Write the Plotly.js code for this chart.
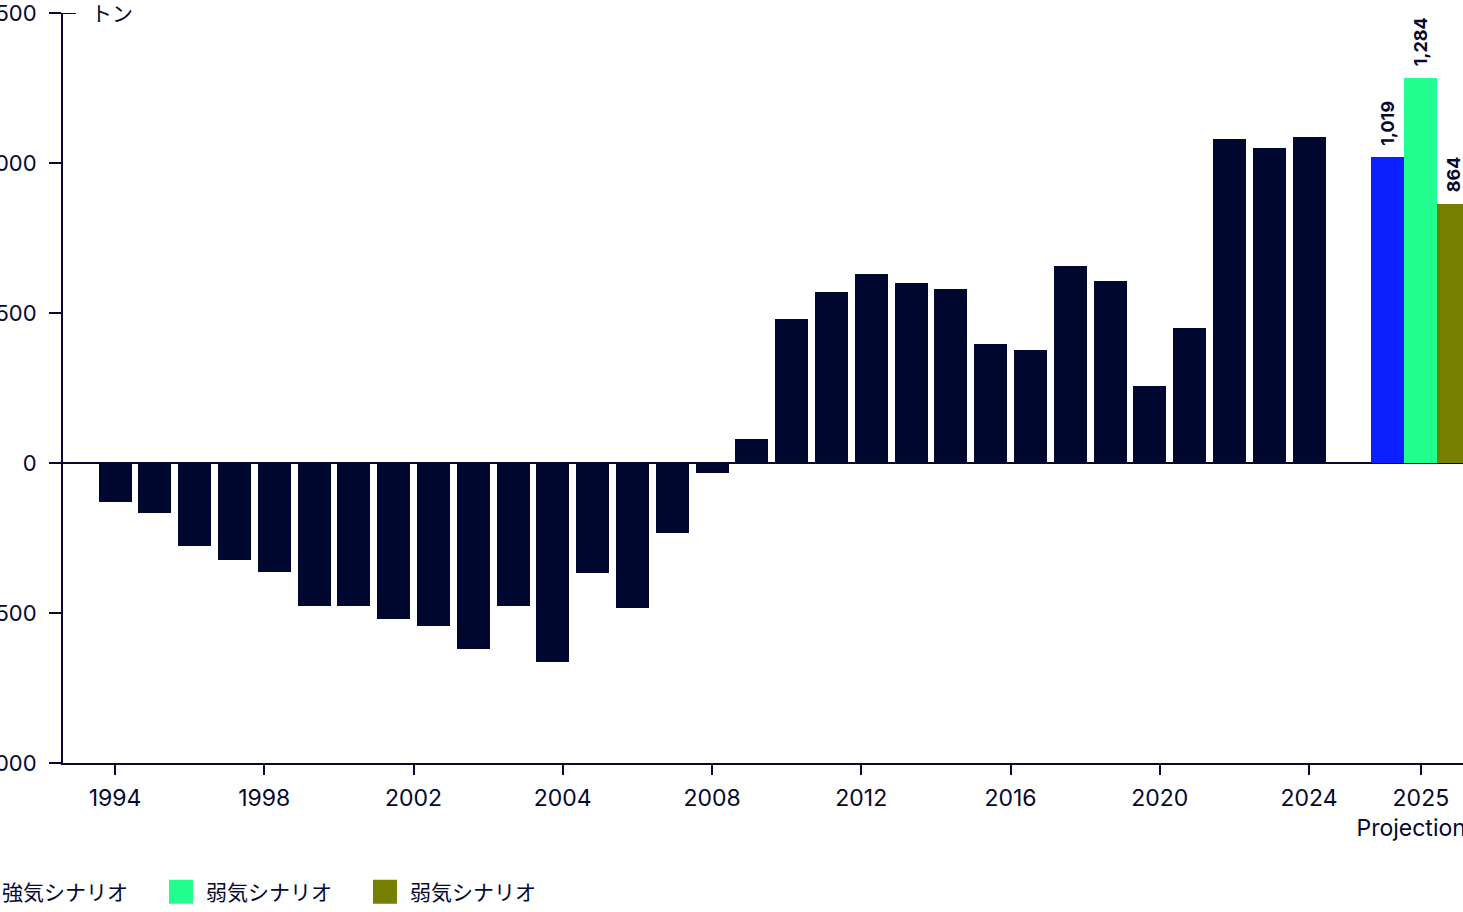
<!DOCTYPE html>
<html>
<head>
<meta charset="utf-8">
<script src="https://cdn.plot.ly/plotly-3.0.1.min.js"></script>
<style>
  html, body { margin: 0; padding: 0; overflow: hidden; background: #fff; }
  #chart { position: absolute; left: -100px; top: -20px; width: 1623px; height: 932px; }
</style>
</head>
<body>
<div id="chart"></div>
<script>
// ---- data ----
const years = [1994,1995,1996,1997,1998,1999,2000,2001,2002,2003,2004,2005,2006,2007,2008,2009,
               2010,2011,2012,2013,2014,2015,2016,2017,2018,2019,2020,2021,2022,2023,2024];
const values = [-130,-167,-277,-323,-363,-477,-477,-520,-543,-620,-477,-663,-367,-483,-233,-33,
                80,480,570,630,600,580,397,377,657,607,257,450,1080,1050,1087];
const tickLabels = ['1994','1998','2002','2004','2008','2012','2016','2020','2024'];
const projLabel = '2025<br>Projection\u00a0\u00a0\u00a0';
const scenarioNames = ['強気シナリオ','弱気シナリオ','弱気シナリオ'];
const scenarioValues = [1019, 1284, 864];
const unitLabel = 'トン';

// ---- styling / layout constants ----
const navy = '#06082e';
const barColor = '#000830';
const scenarioColors = ['#0a20ff', '#22ff90', '#777f00'];
const font = 'Inter, "Noto Sans CJK JP", sans-serif';
const barW = 0.83;
const projCenter = 32.81;
const xIdx = years.map((_, i) => i);
const tickStep = 30 / (tickLabels.length - 1);
const tickVals = tickLabels.map((_, i) => i * tickStep).concat([projCenter]);
const tickText = tickLabels.concat([projLabel]);

const traces = [{
  type: 'bar', x: xIdx, y: values, width: barW,
  marker: { color: barColor }, showlegend: false, hoverinfo: 'skip'
}];
scenarioValues.forEach((v, i) => {
  traces.push({
    type: 'bar', x: [projCenter + (i - 1) * barW], y: [v], width: barW,
    marker: { color: scenarioColors[i] }, showlegend: false, hoverinfo: 'skip',
    texttemplate: '\u00a0\u00a0%{y:,}', textposition: 'outside', textangle: -90,
    constraintext: 'none', cliponaxis: false,
    textfont: { family: font, size: 18, color: navy, weight: 'bold' }
  });
});
// legend entries
scenarioNames.forEach((n, i) => {
  traces.push({
    type: 'bar', x: [null], y: [null], name: n,
    marker: { color: scenarioColors[i] },
    hoverinfo: 'skip'
  });
});

const layout = {
  width: 1623, height: 932,
  margin: { l: 163, r: 43, t: 33, b: 149, autoexpand: false },
  paper_bgcolor: '#fff', plot_bgcolor: '#fff',
  barmode: 'overlay', bargap: 0,
  font: { family: font, size: 21, color: navy },
  xaxis: {
    range: [-1.307, 34.296], showgrid: false, zeroline: false,
    showline: true, linecolor: navy, linewidth: 2,
    ticks: 'outside', ticklen: 10, tickwidth: 2, tickcolor: navy,
    tickvals: tickVals, ticktext: tickText, ticklabelstandoff: 3,
    tickfont: { family: font, size: 23, color: navy }
  },
  yaxis: {
    range: [-1000, 1500], tickvals: [-1000, -500, 0, 500, 1000, 1500],
    tickformat: ',', showgrid: false,
    zeroline: true, zerolinecolor: navy, zerolinewidth: 2,
    showline: true, linecolor: navy, linewidth: 2,
    ticks: 'outside', ticklen: 12, tickwidth: 2, tickcolor: navy,
    ticklabelstandoff: 8, ticklabeloverflow: 'allow',
    tickfont: { family: font, size: 22, color: navy }
  },
  shapes: [{
    type: 'line', xref: 'paper', yref: 'y', xsizemode: 'pixel', xanchor: 0,
    x0: 0, x1: 13, y0: 1500, y1: 1500, line: { color: navy, width: 2 }
  }],
  annotations: [{
    text: unitLabel, xref: 'paper', yref: 'paper', x: 0, y: 1,
    xanchor: 'left', yanchor: 'middle', xshift: 26, showarrow: false,
    font: { family: font, size: 21, color: navy }
  }],
  legend: {
    orientation: 'h', x: -0.0713, xanchor: 'left', y: -0.172, yanchor: 'middle',
    entrywidth: 159, entrywidthmode: 'pixels',
    font: { family: font, size: 21, color: navy }, bgcolor: 'rgba(0,0,0,0)'
  },
  hovermode: false
};

function enlargeSwatches(gd) {
  // enlarge legend swatches to the reference's 24px squares
  gd.querySelectorAll('.legendpoints path').forEach(p => {
    p.setAttribute('d', 'M7,12H-17V-12H7Z');
    p.style.strokeWidth = '0px';
  });
}

const gdEl = document.getElementById('chart');
Plotly.newPlot(gdEl, traces, layout, { displayModeBar: false, staticPlot: true }).then(gd => {
  enlargeSwatches(gd);
  gd.on('plotly_afterplot', () => enlargeSwatches(gd));
  setTimeout(() => enlargeSwatches(gd), 50);
  setTimeout(() => enlargeSwatches(gd), 300);
});
</script>
</body>
</html>
